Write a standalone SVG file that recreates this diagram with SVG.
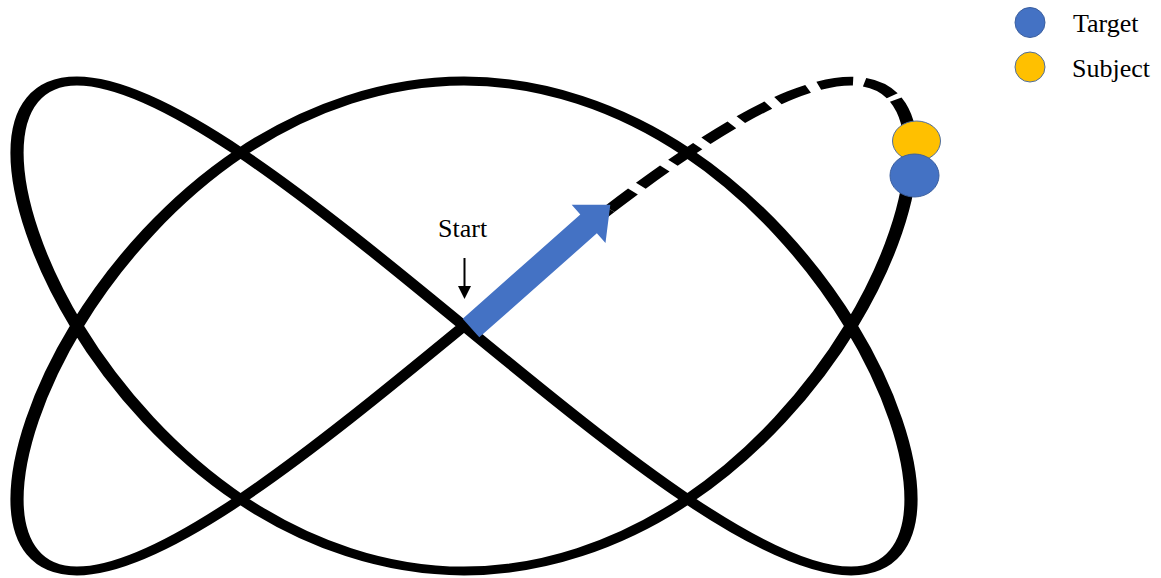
<svg xmlns="http://www.w3.org/2000/svg" width="1161" height="578" viewBox="0 0 1161 578">
<style>
.trk{fill:none;stroke:#000;stroke-width:8.8;stroke-linejoin:round}
.dash{stroke-dasharray:23.5 7.75}
.lbl{font-family:"Liberation Serif","Times New Roman",serif;font-size:26px;fill:#000}
.tgt{fill:#4472C4;stroke:#3A5E9E;stroke-width:1}
.sub{fill:#FFC000;stroke:#4F6E9E;stroke-width:1}
</style>
<rect width="1161" height="578" fill="#fff"/>
<g id="track" transform="translate(464,326) scale(1.5,1)">
<path class="trk" d="M287.84,-226.36 C294.57,-214.09 298,-195.92 298,-173.24 C298,-127.89 284.08,-64.14 258.07,0 C232.06,64.14 194.04,127.89 149,173.24 C103.96,218.59 52.01,245 0,245 C-52.01,245 -103.96,218.59 -149,173.24 C-194.04,127.89 -232.06,64.14 -258.07,0 C-284.08,-64.14 -298,-127.89 -298,-173.24 C-298,-218.59 -284.08,-245 -258.07,-245 C-232.06,-245 -194.04,-218.59 -149,-173.24 C-103.96,-127.89 -52.01,-64.14 0,0 C52.01,64.14 103.96,127.89 149,173.24 C194.04,218.59 232.06,245 258.07,245 C284.08,245 298,218.59 298,173.24 C298,127.89 284.08,64.14 258.07,0 C232.06,-64.14 194.04,-127.89 149,-173.24 C103.96,-218.59 52.01,-245 0,-245 C-52.01,-245 -103.96,-218.59 -149,-173.24 C-194.04,-127.89 -232.06,-64.14 -258.07,0 C-284.08,64.14 -298,127.89 -298,173.24 C-298,218.59 -284.08,245 -258.07,245 C-232.06,245 -194.04,218.59 -149,173.24 C-103.96,127.89 -52.01,64.14 0,0 C32.94,-40.62 65.88,-81.21 97.03,-116.91"/>
<path class="trk dash" d="M97.03,-116.91 C142.93,-169.52 184.85,-210.96 217.96,-230.94 C251.07,-250.92 275.28,-249.27 287.84,-226.36"/>
</g>
<g id="move-arrow" transform="translate(471,328) rotate(-41.5)">
<polygon points="0,-12.5 157,-12.5 157,-25.5 186,0 157,25.5 157,12.5 0,12.5" fill="#4472C4"/>
</g>
<g id="start">
<text class="lbl" x="438" y="237">Start</text>
<line x1="464.5" y1="258" x2="464.5" y2="289" stroke="#000" stroke-width="2"/>
<polygon points="458,286 471,286 464.5,299" fill="#000"/>
</g>
<g id="subject">
<ellipse class="sub" cx="916.5" cy="141" rx="24" ry="20"/>
</g>
<g id="target">
<ellipse class="tgt" cx="914.5" cy="175.5" rx="24.5" ry="21.5"/>
</g>
<g id="legend">
<circle class="tgt" cx="1030" cy="22.5" r="15"/>
<text class="lbl" x="1073" y="32">Target</text>
<circle class="sub" cx="1030" cy="67" r="15"/>
<text class="lbl" x="1072" y="77">Subject</text>
</g>
</svg>
